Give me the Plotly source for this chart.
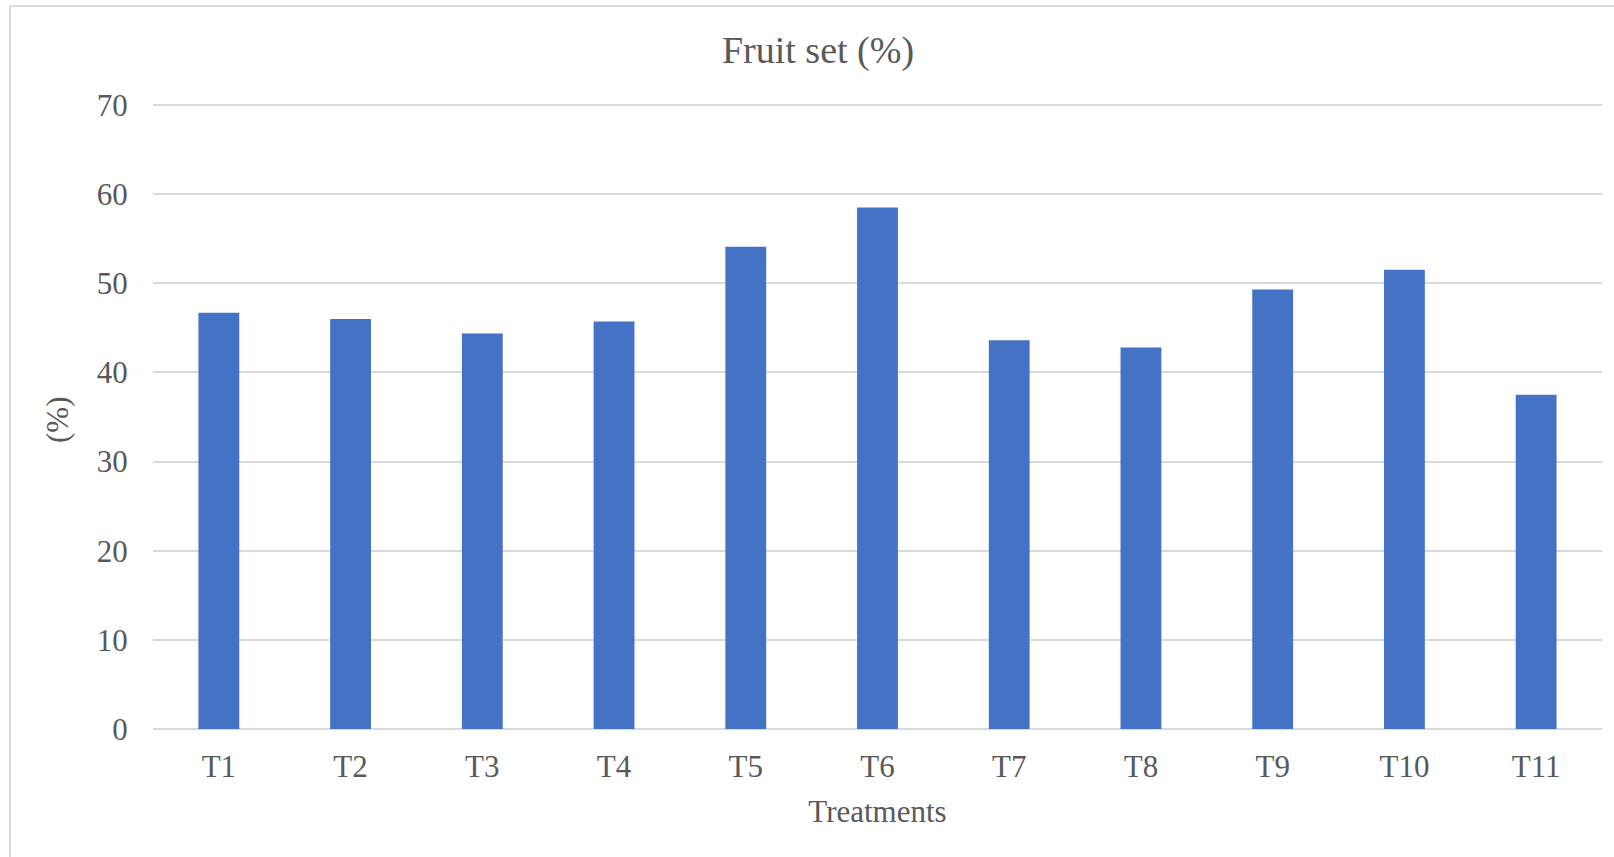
import plotly.graph_objects as go

# Fruit set by treatment
treatments = ["T1", "T2", "T3", "T4", "T5", "T6", "T7", "T8", "T9", "T10", "T11"]
fruit_set = [46.7, 46.0, 44.35, 45.7, 54.1, 58.5, 43.6, 42.8, 49.3, 51.5, 37.5]
y_ticks = [0, 10, 20, 30, 40, 50, 60, 70]

FONT = "Liberation Serif, Times New Roman, serif"
TEXT = "#595959"
GRID = "#D9D9D9"
BAR = "#4472C4"

W, H = 1614, 857
ML, MR, MT, MB = 153, 12, 96, 128
plot_w = W - ML - MR
plot_h = H - MT - MB

fig = go.Figure(
    go.Bar(
        x=treatments,
        y=fruit_set,
        width=0.31,
        marker=dict(color=BAR, line=dict(width=0)),
    )
)

# chart-area border (left and top edges visible)
bx = (10 - ML) / plot_w
by = (H - MB - 6) / plot_h
fig.add_shape(type="line", xref="paper", yref="paper", x0=bx, x1=1.2, y0=by, y1=by,
              line=dict(color=GRID, width=2))
fig.add_shape(type="line", xref="paper", yref="paper", x0=bx, x1=bx, y0=by, y1=-0.5,
              line=dict(color=GRID, width=2))

# vertical axis title
fig.add_annotation(
    text="(%)",
    textangle=-90,
    xref="paper", yref="paper",
    x=(57 - ML) / plot_w, y=(H - MB - 420) / plot_h,
    xanchor="center", yanchor="middle",
    showarrow=False,
    font=dict(family=FONT, color=TEXT, size=31),
)

fig.update_layout(
    width=W,
    height=H,
    margin=dict(l=ML, r=MR, t=MT, b=MB),
    paper_bgcolor="white",
    plot_bgcolor="white",
    showlegend=False,
    font=dict(family=FONT, color=TEXT, size=31),
    title=dict(
        text="Fruit set (%)",
        font=dict(family=FONT, color=TEXT, size=38),
        x=818 / W,
        xanchor="center",
        xref="container",
        y=1 - 50 / H,
        yanchor="middle",
        yref="container",
    ),
    xaxis=dict(
        title=dict(text="Treatments", font=dict(size=31), standoff=17),
        showgrid=False,
        showline=False,
        ticks="outside",
        ticklen=10,
        tickcolor="rgba(0,0,0,0)",
        tickfont=dict(size=31),
    ),
    yaxis=dict(
        range=[0, 71],
        tickvals=y_ticks,
        showgrid=True,
        gridcolor=GRID,
        gridwidth=2,
        zeroline=True,
        zerolinecolor=GRID,
        zerolinewidth=2,
        showline=False,
        ticks="outside",
        ticklen=18,
        tickcolor="rgba(0,0,0,0)",
        tickfont=dict(size=31),
    ),
)

fig.write_html("out.html")
